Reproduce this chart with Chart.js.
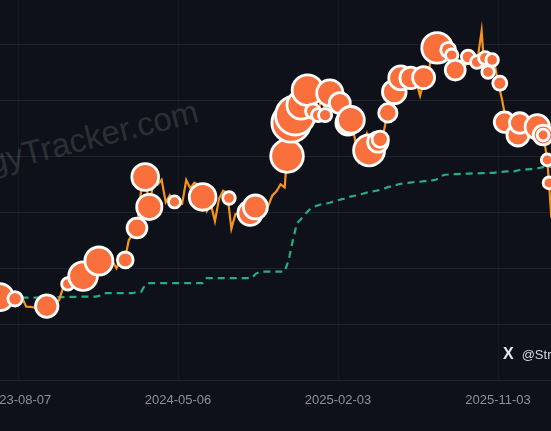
<!DOCTYPE html>
<html>
<head>
<meta charset="utf-8">
<script src="https://cdn.jsdelivr.net/npm/chart.js@4.4.1/dist/chart.umd.min.js"></script>
<style>
  html, body { margin: 0; padding: 0; width: 551px; height: 431px; overflow: hidden; background: #0e1119; }
  #wrap { position: absolute; left: -40px; top: -12px; width: 640px; height: 431px; }
  .wm {
    position: absolute; left: -94px; top: 167px;
    font: 33px "Liberation Sans", Arial, sans-serif; line-height: 33px;
    color: rgba(255,255,255,0.14); white-space: nowrap;
    transform-origin: 0 28px; transform: rotate(-14deg);
  }
  .handle {
    position: absolute; left: 503px; top: 345px; white-space: nowrap;
    font: 13px "Liberation Sans", Arial, sans-serif; color: #d4d6da;
  }
  .handle b { font-size: 16px; margin-right: 8px; color: #e6e7ea; }
</style>
</head>
<body>
<div class="wm">StrategyTracker.com</div>
<div id="wrap"><canvas id="chart"></canvas></div>
<div class="handle"><b>X</b>@StrategyTracker</div>
<script>
// weekly BTC price (k USD) and average cost basis (k USD)
const dates = [
  "2023-07-03","2023-07-10","2023-07-17","2023-07-24","2023-07-31",
  "2023-08-07","2023-08-14","2023-08-21","2023-08-28",
  "2023-09-04","2023-09-11","2023-09-18","2023-09-25",
  "2023-10-02","2023-10-09","2023-10-16","2023-10-23","2023-10-30",
  "2023-11-06","2023-11-13","2023-11-20","2023-11-27",
  "2023-12-04","2023-12-11","2023-12-18","2023-12-25",
  "2024-01-01","2024-01-08","2024-01-15","2024-01-22","2024-01-29",
  "2024-02-05","2024-02-12","2024-02-19","2024-02-26",
  "2024-03-04","2024-03-11","2024-03-18","2024-03-25",
  "2024-04-01","2024-04-08","2024-04-15","2024-04-22","2024-04-29",
  "2024-05-06","2024-05-13","2024-05-20","2024-05-27",
  "2024-06-03","2024-06-10","2024-06-17","2024-06-24",
  "2024-07-01","2024-07-08","2024-07-15","2024-07-22","2024-07-29",
  "2024-08-05","2024-08-12","2024-08-19","2024-08-26",
  "2024-09-02","2024-09-09","2024-09-16","2024-09-23","2024-09-30",
  "2024-10-07","2024-10-14","2024-10-21","2024-10-28",
  "2024-11-04","2024-11-11","2024-11-18","2024-11-25",
  "2024-12-02","2024-12-09","2024-12-16","2024-12-23","2024-12-30",
  "2025-01-06","2025-01-13","2025-01-20","2025-01-27",
  "2025-02-03","2025-02-10","2025-02-17","2025-02-24",
  "2025-03-03","2025-03-10","2025-03-17","2025-03-24","2025-03-31",
  "2025-04-07","2025-04-14","2025-04-21","2025-04-28",
  "2025-05-05","2025-05-12","2025-05-19","2025-05-26",
  "2025-06-02","2025-06-09","2025-06-16","2025-06-23","2025-06-30",
  "2025-07-07","2025-07-14","2025-07-21","2025-07-28",
  "2025-08-04","2025-08-11","2025-08-18","2025-08-25",
  "2025-09-01","2025-09-08","2025-09-15","2025-09-22","2025-09-29",
  "2025-10-06","2025-10-10","2025-10-13","2025-10-20","2025-10-27",
  "2025-11-03","2025-11-10","2025-11-17","2025-11-24",
  "2025-12-01","2025-12-08","2025-12-15","2025-12-22","2025-12-29",
  "2026-01-05","2026-01-12","2026-01-19","2026-01-26","2026-01-29","2026-02-02"
];
const price = [
  30.5, 30.4, 30.0, 29.3, 29.3,
  29.2, 29.3, 26.2, 26.1,
  25.9, 25.2, 26.8, 26.3,
  27.5, 27.6, 28.5, 33.0, 34.5,
  35.0, 36.5, 37.5, 37.2,
  41.9, 41.3, 42.7, 43.0,
  45.0, 46.0, 42.5, 39.9, 43.3,
  42.6, 50.0, 52.0, 54.5,
  67.5, 72.0, 63.0, 70.0,
  69.7, 71.5, 63.5, 66.0, 63.2,
  63.0, 62.9, 71.4, 68.5,
  70.5, 69.6, 66.5, 60.3,
  62.8, 56.7, 64.8, 67.6, 66.8,
  54.0, 59.3, 59.0, 62.9,
  59.1, 57.0, 60.0, 63.3, 63.3,
  62.3, 65.9, 67.4, 69.9,
  68.8, 88.7, 90.5, 93.0,
  97.3, 100.0, 106.0, 94.7, 92.6,
  102.2, 94.5, 102.3, 102.0,
  101.4, 97.5, 95.8, 92.5,
  87.0, 78.5, 84.0, 88.0, 82.5,
  79.2, 84.5, 87.5, 95.0,
  94.7, 102.8, 105.6, 109.4,
  105.6, 110.3, 106.8, 101.5, 107.1,
  108.2, 119.8, 117.4, 118.0,
  114.2, 119.3, 116.3, 110.1,
  109.2, 112.1, 115.4, 112.7, 114.4,
  124.7, 113.2, 115.2, 110.5, 114.1,
  106.5, 100.0, 92.2, 88.3,
  86.3, 90.6, 86.4, 88.5, 87.1,
  93.8, 91.5, 88.0, 78.6, 70.4, 58.0
];
const cost = [
  29.4, 29.4, 29.4, 29.4, 29.4,
  29.4, 29.4, 29.4, 29.4,
  29.4, 29.4, 29.4, 29.6,
  29.6, 29.6, 29.6, 29.6, 29.6,
  29.7, 29.7, 29.7, 29.8,
  29.8, 29.8, 29.8, 30.2,
  31.0, 31.0, 31.0, 31.0, 31.0,
  31.0, 31.0, 31.0, 31.5,
  31.5, 34.0, 34.6, 34.6,
  34.6, 34.6, 34.6, 34.6, 34.6,
  34.6, 34.6, 34.6, 34.6,
  34.6, 34.6, 34.6, 36.4,
  36.4, 36.4, 36.4, 36.4, 36.4,
  36.4, 36.4, 36.4, 36.4,
  36.4, 36.4, 38.0, 38.7, 38.7,
  38.7, 38.7, 38.7, 38.7,
  38.7, 43.0, 50.0, 56.0,
  57.5, 59.3, 60.8, 61.8, 62.3,
  62.8, 63.0, 63.3, 63.8,
  64.2, 64.6, 64.8, 65.5,
  65.8, 66.0, 66.5, 66.9, 67.3,
  67.5, 67.8, 68.3, 68.8,
  69.2, 69.6, 70.0, 70.2,
  70.4, 70.6, 70.8, 70.8, 71.0,
  71.0, 71.3, 71.6, 72.8,
  73.3, 73.4, 73.5, 73.5,
  73.6, 73.7, 73.7, 73.8, 73.8,
  73.9, 73.9, 73.9, 74.0, 74.0,
  74.2, 74.3, 74.5, 74.5,
  74.5, 74.9, 75.2, 75.2, 75.3,
  75.4, 75.7, 76.0, 76.1, 76.1, 76.1
];

// purchases: date, price paid (k USD), BTC bought
const buyDates = [
  "2023-07-07","2023-08-02","2023-09-25","2023-10-31","2023-11-26","2023-12-23",
  "2024-02-06","2024-02-26","2024-03-11","2024-03-18","2024-04-30","2024-06-17",
  "2024-08-01","2024-09-06","2024-09-15","2024-11-08","2024-11-15","2024-11-22",
  "2024-12-02","2024-12-13","2024-12-22","2024-12-31","2025-01-12","2025-01-20",
  "2025-02-06","2025-02-20","2025-02-25","2025-03-28","2025-04-12","2025-04-16",
  "2025-04-29","2025-05-10","2025-05-21","2025-06-07","2025-06-29","2025-07-22",
  "2025-08-10","2025-08-16","2025-08-22","2025-09-13","2025-09-28","2025-10-12",
  "2025-10-17","2025-10-24","2025-11-06","2025-11-14","2025-12-07","2025-12-10",
  "2026-01-09","2026-01-19","2026-01-19","2026-01-26","2026-01-29"
];
const buyPrices = [
  29.6, 29.0, 26.4, 34.3, 37.1, 42.5,
  42.9, 54.3, 72.5, 61.8, 63.6, 65.4,
  65.0, 59.6, 61.8, 80.0, 91.8, 94.5,
  98.2, 103.5, 96.0, 94.6, 94.6, 102.5,
  98.9, 91.8, 92.9, 82.0, 85.0, 86.0,
  95.4, 102.9, 107.9, 107.9, 108.0, 118.6,
  117.9, 116.0, 110.7, 115.4, 113.6, 115.0,
  110.0, 114.3, 106.0, 92.1, 87.5, 91.8,
  90.4, 87.5, 87.5, 78.6, 70.4
];
const buyBtc = [
  12333, 467, 5445, 155, 16130, 14620,
  850, 3000, 12000, 9245, 122, 11931,
  169, 8110, 7420, 27200, 51780, 55500,
  15400, 21550, 500, 250, 250, 11000,
  4000, 7600, 12000, 22048, 3500, 1000,
  2000, 7000, 7390, 4500, 4980, 21021,
  600, 155, 3081, 300, 196, 220,
  168, 168, 397, 3500, 5000, 3500,
  8000, 3000, 100, 100, 100
];

const tickDates = ["2023-08-07", "2024-05-06", "2025-02-03", "2025-11-03"];

const base = Date.parse("2023-08-07");
const toDay = d => (Date.parse(d) - base) / 864e5;

new Chart(document.getElementById("chart"), {
  type: "line",
  data: {
    datasets: [
      {
        type: "bubble",
        label: "Purchases",
        data: buyDates.map((d, i) => ({ x: toDay(d), y: buyPrices[i], r: 4 + 1.9 * Math.cbrt(buyBtc[i] / 100) })),
        backgroundColor: "#f9703d",
        borderColor: "#ffffff",
        borderWidth: 2.8
      },
      {
        label: "BTC price",
        data: dates.map((d, i) => ({ x: toDay(d), y: price[i] })),
        borderColor: "#f7931a",
        borderWidth: 2.2,
        pointRadius: 0,
        tension: 0
      },
      {
        label: "Average cost",
        data: dates.map((d, i) => ({ x: toDay(d), y: cost[i] })),
        borderColor: "#27ad82",
        borderWidth: 2.2,
        borderDash: [7, 5],
        pointRadius: 0,
        tension: 0
      }
    ]
  },
  options: {
    responsive: true,
    maintainAspectRatio: false,
    animation: false,
    layout: { autoPadding: false, padding: 0 },
    plugins: { legend: { display: false }, tooltip: { enabled: false } },
    scales: {
      x: {
        type: "linear",
        min: toDay("2023-04-30"),
        max: toDay("2026-04-26"),
        afterBuildTicks: s => { s.ticks = tickDates.map(d => ({ value: toDay(d) })) },
        afterFit: s => { s.height = 39 },
        grid: { color: "rgba(255,255,255,0.035)", drawTicks: false },
        border: { display: false },
        ticks: {
          color: "#8c9098",
          padding: 13,
          maxRotation: 0,
          autoSkip: false,
          font: { family: "'Liberation Sans', Arial, sans-serif", size: 13 },
          callback: (v, i) => tickDates[i]
        }
      },
      y: {
        min: 0,
        max: 140,
        afterFit: s => { s.width = 0 },
        grid: { color: "rgba(255,255,255,0.075)", drawTicks: false },
        border: { display: false },
        ticks: { display: false, stepSize: 20 }
      }
    }
  }
})
</script>
</body>
</html>
